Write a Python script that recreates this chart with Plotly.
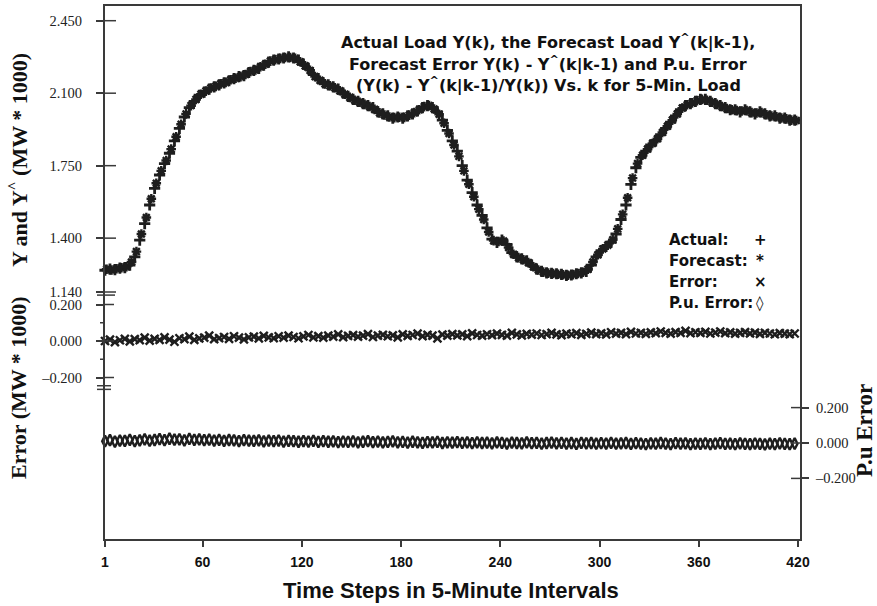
import plotly.graph_objects as go

# ---------------- data ----------------
k_actual = list(range(1, 421, 3))      # 1, 4, ..., 418
k_forecast = list(range(2, 421, 3))    # 2, 5, ..., 419

actual_load = [
    1.245, 1.250, 1.248, 1.255, 1.258, 1.270, 1.310, 1.390, 1.470, 1.560,
    1.640, 1.705, 1.760, 1.810, 1.870, 1.930, 1.985, 2.030, 2.060, 2.090,
    2.105, 2.120, 2.130, 2.140, 2.150, 2.160, 2.170, 2.180, 2.185, 2.200,
    2.210, 2.220, 2.235, 2.250, 2.260, 2.265, 2.270, 2.275, 2.270, 2.260,
    2.240, 2.220, 2.190, 2.170, 2.150, 2.140, 2.130, 2.120, 2.100, 2.085,
    2.070, 2.060, 2.050, 2.040, 2.030, 2.010, 2.000, 1.990, 1.980, 1.985,
    1.980, 1.990, 2.000, 2.015, 2.030, 2.040, 2.030, 2.010, 1.970, 1.920,
    1.870, 1.820, 1.750, 1.680, 1.620, 1.560, 1.510, 1.450, 1.395, 1.380,
    1.390, 1.370, 1.330, 1.310, 1.300, 1.290, 1.270, 1.250, 1.240, 1.232,
    1.230, 1.228, 1.225, 1.220, 1.222, 1.228, 1.232, 1.240, 1.270, 1.310,
    1.340, 1.360, 1.380, 1.420, 1.490, 1.560, 1.660, 1.740, 1.790, 1.820,
    1.850, 1.870, 1.900, 1.930, 1.960, 1.990, 2.020, 2.040, 2.050, 2.060,
    2.070, 2.070, 2.060, 2.050, 2.040, 2.030, 2.020, 2.020, 2.010, 2.020,
    2.010, 2.000, 2.010, 2.000, 1.990, 1.990, 1.980, 1.980, 1.970, 1.970,
]

forecast_load = [
    1.250, 1.246, 1.252, 1.257, 1.262, 1.285, 1.335, 1.420, 1.500, 1.590,
    1.665, 1.725, 1.775, 1.830, 1.890, 1.950, 2.000, 2.040, 2.070, 2.095,
    2.110, 2.125, 2.133, 2.145, 2.152, 2.165, 2.172, 2.180, 2.190, 2.205,
    2.212, 2.228, 2.240, 2.255, 2.262, 2.268, 2.272, 2.272, 2.268, 2.252,
    2.232, 2.210, 2.180, 2.162, 2.145, 2.136, 2.126, 2.112, 2.095, 2.080,
    2.066, 2.056, 2.046, 2.036, 2.022, 2.005, 1.995, 1.985, 1.982, 1.984,
    1.983, 1.994, 2.006, 2.020, 2.035, 2.040, 2.024, 1.998, 1.955, 1.905,
    1.850, 1.795, 1.725, 1.660, 1.600, 1.540, 1.490, 1.430, 1.388, 1.384,
    1.386, 1.355, 1.322, 1.306, 1.296, 1.282, 1.262, 1.246, 1.236, 1.231,
    1.229, 1.226, 1.223, 1.221, 1.224, 1.229, 1.235, 1.250, 1.285, 1.320,
    1.348, 1.366, 1.392, 1.445, 1.515, 1.595, 1.690, 1.760, 1.800, 1.830,
    1.857, 1.880, 1.910, 1.940, 1.970, 2.000, 2.028, 2.044, 2.053, 2.064,
    2.070, 2.066, 2.056, 2.046, 2.036, 2.026, 2.020, 2.016, 2.014, 2.016,
    2.006, 2.004, 2.006, 1.996, 1.990, 1.986, 1.980, 1.976, 1.970, 1.968,
]

forecast_error = [
    0.000, 0.008, -0.006, 0.004, 0.012, -0.002, 0.010, 0.005, 0.018, 0.002,
    0.012, 0.006, 0.020, 0.008, -0.004, 0.015, 0.010, 0.024, 0.006, 0.014,
    0.018, 0.030, 0.010, 0.016, 0.022, 0.012, 0.026, 0.018, 0.009, 0.020,
    0.024, 0.014, 0.028, 0.020, 0.016, 0.026, 0.019, 0.030, 0.022, 0.015,
    0.025, 0.033, 0.020, 0.027, 0.018, 0.030, 0.024, 0.036, 0.021, 0.028,
    0.032, 0.024, 0.030, 0.038, 0.022, 0.029, 0.034, 0.026, 0.031, 0.020,
    0.036, 0.028, 0.033, 0.040, 0.027, 0.034, 0.030, 0.014, 0.035, 0.029,
    0.038, 0.031, 0.036, 0.027, 0.042, 0.033, 0.029, 0.037, 0.032, 0.040,
    0.034, 0.030, 0.044, 0.036, 0.031, 0.039, 0.035, 0.041, 0.033, 0.038,
    0.045, 0.036, 0.032, 0.040, 0.037, 0.043, 0.034, 0.039, 0.046, 0.038,
    0.042, 0.036, 0.048, 0.040, 0.044, 0.038, 0.050, 0.041, 0.045, 0.039,
    0.047, 0.043, 0.052, 0.044, 0.040, 0.049, 0.045, 0.056, 0.043, 0.048,
    0.044, 0.050, 0.041, 0.046, 0.052, 0.043, 0.047, 0.040, 0.045, 0.049,
    0.042, 0.046, 0.039, 0.044, 0.041, 0.037, 0.043, 0.040, 0.038, 0.041,
]

pu_error = [
    0.010, 0.016, 0.008, 0.014, 0.012, 0.018, 0.011, 0.015, 0.020, 0.013,
    0.017, 0.022, 0.016, 0.024, 0.019, 0.021, 0.015, 0.023, 0.018, 0.020,
    0.016, 0.019, 0.014, 0.018, 0.012, 0.017, 0.015, 0.011, 0.016, 0.013,
    0.012, 0.015, 0.009, 0.013, 0.011, 0.014, 0.008, 0.012, 0.010, 0.007,
    0.011, 0.008, 0.012, 0.006, 0.010, 0.007, 0.009, 0.005, 0.008, 0.006,
    0.009, 0.004, 0.007, 0.010, 0.005, 0.008, 0.003, 0.006, 0.009, 0.004,
    0.006, 0.002, 0.007, 0.004, 0.001, 0.005, 0.003, 0.006, 0.000, 0.004,
    0.002, 0.005, 0.001, 0.003, -0.001, 0.004, 0.000, 0.002, -0.002, 0.003,
    0.001, -0.003, 0.002, 0.000, -0.002, 0.003, -0.001, 0.001, -0.004, 0.000,
    0.002, -0.002, 0.001, -0.003, 0.000, -0.005, 0.001, -0.002, 0.000, -0.004,
    -0.001, -0.003, 0.001, -0.004, -0.002, 0.000, -0.005, -0.001, -0.003, -0.006,
    -0.002, -0.004, 0.000, -0.003, -0.006, -0.001, -0.004, -0.002, -0.007, -0.003,
    -0.005, -0.002, -0.006, -0.003, -0.001, -0.005, -0.004, -0.007, -0.002, -0.005,
    -0.006, -0.003, -0.005, -0.008, -0.004, -0.006, -0.002, -0.005, -0.007, -0.004,
]

x_ticks = [1, 60, 120, 180, 240, 300, 360, 420]
load_ticks = [2.45, 2.10, 1.75, 1.40, 1.14]
load_tick_text = ["2.450", "2.100", "1.750", "1.400", "1.140"]
load_break_ticks = [1.125]
err_ticks = [0.2, 0.0, -0.2]
err_tick_text = ["0.200", "0.000", "\u20130.200"]
err_minor_ticks = [0.1, -0.1]
err_break_ticks = [-0.245, -0.265]
pu_ticks = [0.2, 0.0, -0.2]
pu_tick_text = ["0.200", "0.000", "\u20130.200"]

title_lines = [
    "Actual Load Y(k), the Forecast Load Y<sup>^</sup>(k|k-1),",
    "Forecast Error Y(k) - Y<sup>^</sup>(k|k-1) and P.u. Error",
    "(Y(k) - Y<sup>^</sup>(k|k-1)/Y(k)) Vs. k for 5-Min. Load",
]
legend_labels = ["Actual:", "Forecast:", "Error:", "P.u. Error:"]
legend_symbols = ["+", "*", "\u00d7", "\u25ca"]

# ---------------- styling ----------------
INK = "#1e1e1e"
FRAME = "#3a3a3a"
SERIF = "Liberation Serif, Times New Roman, serif"
SANS = "Liberation Sans, Arial, sans-serif"
WIDE = "DejaVu Sans, Liberation Sans, Arial, sans-serif"

LOAD_RANGE = [-0.0527, 2.5210]
ERR_RANGE = [-1.0849, 1.8356]
PU_RANGE = [-0.5424, 2.4689]

W_PLOT = 695.0
H_PLOT = 533.0
L, T = 105, 6

fig = go.Figure()
fig.add_trace(go.Scatter(
    x=k_actual, y=actual_load, mode="markers", name="Actual", yaxis="y",
    marker=dict(symbol="cross-thin", size=8, line=dict(width=2.8, color=INK), color=INK),
    cliponaxis=False))
fig.add_trace(go.Scatter(
    x=k_forecast, y=forecast_load, mode="markers", name="Forecast", yaxis="y4",
    marker=dict(symbol="asterisk", size=8, line=dict(width=2.4, color=INK), color=INK),
    cliponaxis=False))
fig.add_trace(go.Scatter(
    x=k_actual, y=forecast_error, mode="markers", name="Error", yaxis="y2",
    marker=dict(symbol="x-thin", size=8, line=dict(width=2.4, color=INK), color=INK),
    cliponaxis=False))
fig.add_trace(go.Scatter(
    x=k_actual, y=pu_error, mode="markers", name="P.u. Error", yaxis="y3",
    marker=dict(symbol="diamond-tall-open", size=8, line=dict(width=2.4, color=INK), color=INK),
    cliponaxis=False))


def xp(px):
    return (px - L) / W_PLOT


def yp(py):
    return (T + H_PLOT - py) / H_PLOT


bold_wide = dict(family=WIDE, size=16, color="#111", weight="bold")
legend_font = dict(family=WIDE, size=15, color="#111", weight="bold")
annotations = []
for line, py in zip(title_lines, [42, 63.5, 85]):
    annotations.append(dict(text=line, x=xp(548), y=yp(py), xanchor="center",
                            yanchor="middle", font=bold_wide))
for label, sym, py in zip(legend_labels, legend_symbols, [240, 261, 282, 303]):
    annotations.append(dict(text=label, x=xp(667), y=yp(py), xanchor="left",
                            yanchor="middle", font=legend_font))
    annotations.append(dict(text=sym, x=xp(760), y=yp(py), xanchor="center",
                            yanchor="middle", font=legend_font))
annotations += [
    dict(text="Y and Y<sup>^</sup> (MW * 1000)", x=xp(18), y=yp(160), textangle=-90,
         xanchor="center", yanchor="middle",
         font=dict(family=SERIF, size=22, color="#111", weight="bold")),
    dict(text="Error (MW * 1000)", x=xp(18), y=yp(388), textangle=-90,
         xanchor="center", yanchor="middle",
         font=dict(family=SERIF, size=22, color="#111", weight="bold")),
    dict(text="P.u Error", x=xp(864), y=yp(431), textangle=-90,
         xanchor="center", yanchor="middle",
         font=dict(family=SERIF, size=23, color="#111", weight="bold")),
    dict(text="Time Steps in 5-Minute Intervals", x=xp(451), y=yp(590),
         xanchor="center", yanchor="middle",
         font=dict(family=SANS, size=22, color="#111", weight="bold")),
]
for a in annotations:
    a.update(xref="paper", yref="paper", showarrow=False)

# tick halves drawn inside the frame (ticks cross the axis lines as in the scan)
tick_line = dict(color=FRAME, width=1.5)
shapes = []
for v in load_ticks:
    shapes.append(dict(type="line", xref="paper", yref="y", x0=0, x1=11 / W_PLOT,
                       y0=v, y1=v, line=tick_line))
for v in load_break_ticks:
    shapes.append(dict(type="line", xref="paper", yref="y", x0=-8 / W_PLOT,
                       x1=10 / W_PLOT, y0=v, y1=v, line=tick_line))
for v in err_ticks:
    shapes.append(dict(type="line", xref="paper", yref="y2", x0=0, x1=9 / W_PLOT,
                       y0=v, y1=v, line=tick_line))
for v in err_minor_ticks:
    shapes.append(dict(type="line", xref="paper", yref="y2", x0=-5 / W_PLOT, x1=0,
                       y0=v, y1=v, line=tick_line))
for v in err_break_ticks:
    shapes.append(dict(type="line", xref="paper", yref="y2", x0=-8 / W_PLOT,
                       x1=6 / W_PLOT, y0=v, y1=v, line=tick_line))
for v in pu_ticks:
    shapes.append(dict(type="line", xref="paper", yref="y3", x0=1 - 9 / W_PLOT, x1=1,
                       y0=v, y1=v, line=tick_line))

tick_font_serif = dict(family=SERIF, size=14.5, color="#222")
common = dict(showgrid=False, zeroline=False, automargin=False)

fig.update_layout(
    width=877, height=606,
    margin=dict(l=L, r=877 - L - int(W_PLOT), t=T, b=606 - T - int(H_PLOT), pad=0),
    paper_bgcolor="white", plot_bgcolor="white",
    showlegend=False,
    annotations=annotations,
    shapes=shapes,
    xaxis=dict(range=[1, 1 + 695 / 1.6539], tickmode="array", tickvals=x_ticks,
               ticktext=[str(v) for v in x_ticks],
               showline=True, linecolor=FRAME, linewidth=2, mirror=True,
               ticks="outside", ticklen=6, tickwidth=1.5, tickcolor=FRAME,
               ticklabelstandoff=3,
               tickfont=dict(family=SANS, size=14, color="#111", weight="bold"),
               **common),
    # main axis: the frame line only
    yaxis=dict(range=LOAD_RANGE, showticklabels=False, ticks="",
               showline=True, linecolor=FRAME, linewidth=2, mirror=True, **common),
    yaxis2=dict(range=ERR_RANGE, overlaying="y", anchor="x", side="left",
                tickmode="array", tickvals=err_ticks, ticktext=err_tick_text,
                showline=False, ticks="outside", ticklen=8, tickwidth=1.5,
                tickcolor=FRAME, tickfont=tick_font_serif, ticklabelstandoff=11,
                **common),
    yaxis3=dict(range=PU_RANGE, overlaying="y", anchor="x", side="right",
                tickmode="array", tickvals=pu_ticks, ticktext=pu_tick_text,
                showline=False, ticks="outside", ticklen=8, tickwidth=1.5,
                tickcolor=FRAME, tickfont=tick_font_serif, ticklabelstandoff=4,
                **common),
    yaxis4=dict(range=LOAD_RANGE, overlaying="y", anchor="x", side="left",
                tickmode="array", tickvals=load_ticks, ticktext=load_tick_text,
                ticks="outside", ticklen=8, tickwidth=1.5, tickcolor=FRAME,
                tickfont=tick_font_serif, ticklabelstandoff=11,
                showline=False, **common),
)

fig.write_html("out.html", config={"displayModeBar": False},
               post_script="document.body.style.margin='0px';")
